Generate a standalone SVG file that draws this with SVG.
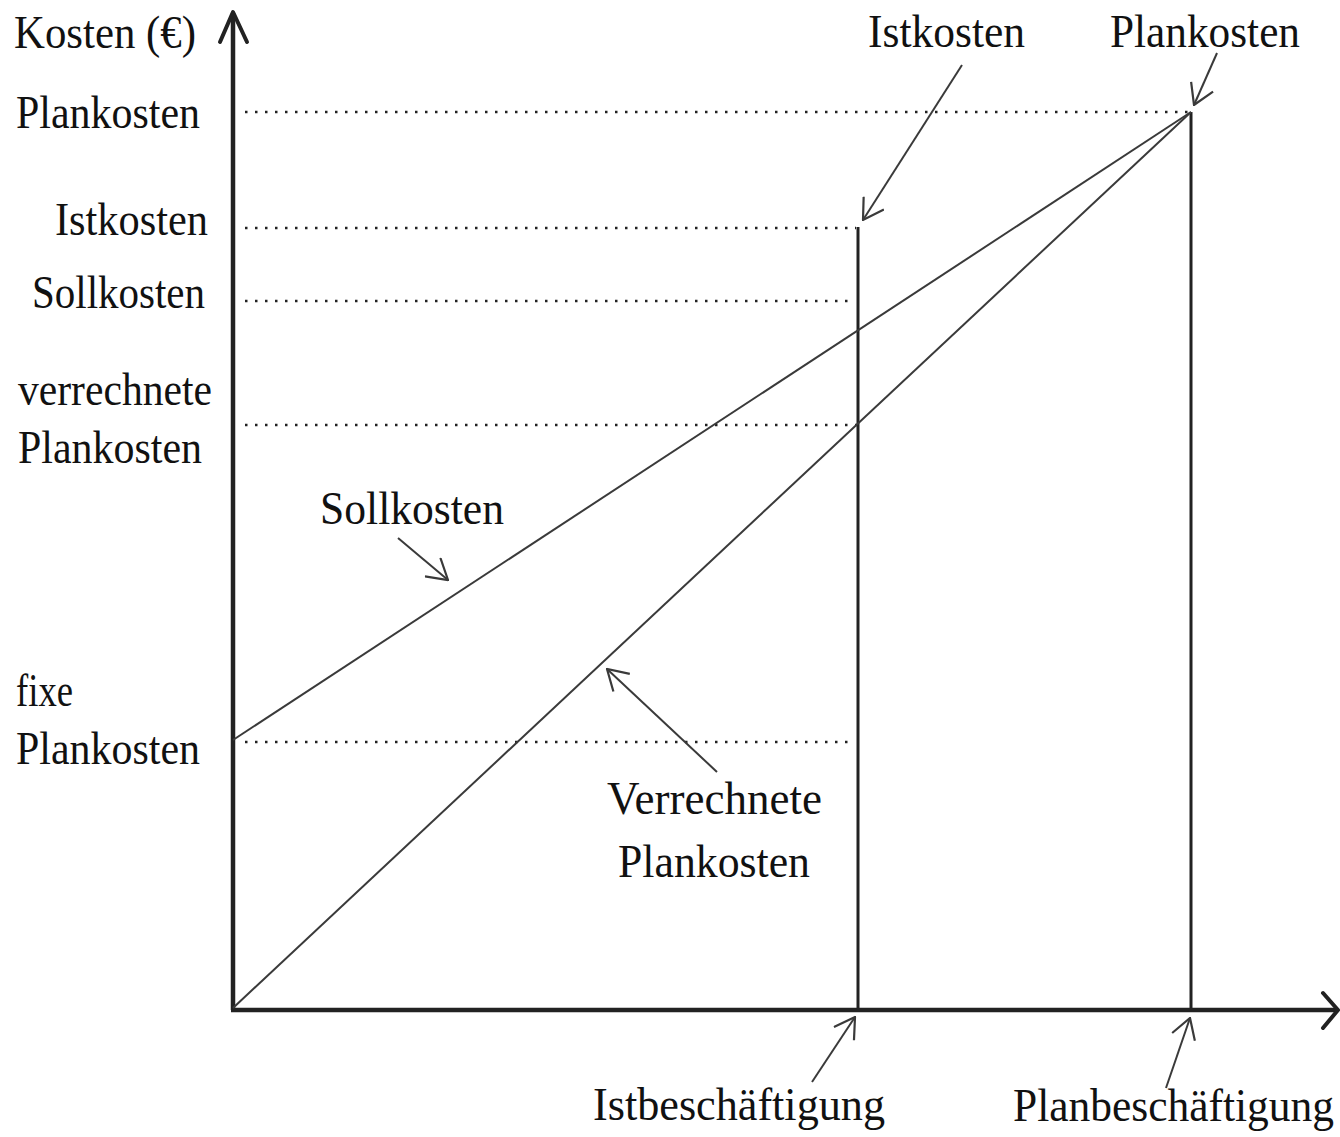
<svg xmlns="http://www.w3.org/2000/svg" width="1340" height="1137" viewBox="0 0 1340 1137">
  <defs>
    <style>
      .lbl { font-family: "Liberation Serif", "Times New Roman", serif; font-size: 47px; fill: #111; }
      .axis { stroke: #222; stroke-width: 4.5; fill: none; }
      .axhead { stroke: #222; stroke-width: 4; fill: none; stroke-linecap: round; stroke-linejoin: round; }
      .vline { stroke: #222; stroke-width: 3; fill: none; }
      .guide { stroke: #222; stroke-width: 2.5; stroke-dasharray: 2.5 7.5; fill: none; }
      .curve { stroke: #3a3a3a; stroke-width: 2; fill: none; }
      .ptr { stroke: #3a3a3a; stroke-width: 2; fill: none; marker-end: url(#vhead); }
    </style>
    <marker id="vhead" viewBox="0 0 22 26" refX="21" refY="13" markerWidth="22" markerHeight="26" markerUnits="userSpaceOnUse" orient="auto">
      <path d="M1,1 L21,13 L1,25" fill="none" stroke="#3a3a3a" stroke-width="2.2"/>
    </marker>
  </defs>

  <rect width="1340" height="1137" fill="#ffffff"/>

  <!-- axes -->
  <g id="axes">
    <line class="axis" x1="233" y1="1010" x2="233" y2="14"/>
    <polyline class="axhead" points="220,42 233,12 247,42"/>
    <line class="axis" x1="231" y1="1010" x2="1337" y2="1010"/>
    <polyline class="axhead" points="1323,993 1338,1010 1323,1028"/>
  </g>

  <!-- dotted guide lines -->
  <g id="guides">
    <line class="guide" x1="245" y1="112" x2="1190" y2="112"/>
    <line class="guide" x1="245" y1="228" x2="856" y2="228"/>
    <line class="guide" x1="245" y1="301" x2="852" y2="301"/>
    <line class="guide" x1="245" y1="425" x2="858" y2="425"/>
    <line class="guide" x1="245" y1="742" x2="850" y2="742"/>
  </g>

  <!-- vertical markers at actual and planned activity -->
  <g id="verticals">
    <line class="vline" x1="858" y1="227" x2="858" y2="1010"/>
    <line class="vline" x1="1191" y1="112" x2="1191" y2="1010"/>
  </g>

  <!-- cost lines -->
  <g id="sollkosten-line">
    <line class="curve" x1="233" y1="740" x2="1191" y2="112"/>
  </g>
  <g id="verrechnete-line">
    <line class="curve" x1="233" y1="1008" x2="1191" y2="112"/>
  </g>

  <!-- y-axis labels -->
  <g id="y-labels">
    <text class="lbl" x="14" y="48" textLength="182" lengthAdjust="spacingAndGlyphs">Kosten (€)</text>
    <text class="lbl" x="16" y="128" textLength="184" lengthAdjust="spacingAndGlyphs">Plankosten</text>
    <text class="lbl" x="55" y="235" textLength="153" lengthAdjust="spacingAndGlyphs">Istkosten</text>
    <text class="lbl" x="32" y="308" textLength="173" lengthAdjust="spacingAndGlyphs">Sollkosten</text>
    <text class="lbl" x="18" y="405" textLength="194" lengthAdjust="spacingAndGlyphs">verrechnete</text>
    <text class="lbl" x="18" y="463" textLength="184" lengthAdjust="spacingAndGlyphs">Plankosten</text>
    <text class="lbl" x="16" y="706" textLength="57" lengthAdjust="spacingAndGlyphs">fixe</text>
    <text class="lbl" x="16" y="764" textLength="184" lengthAdjust="spacingAndGlyphs">Plankosten</text>
  </g>

  <!-- annotation labels -->
  <g id="lbl-istkosten"><text class="lbl" x="868" y="47" textLength="157" lengthAdjust="spacingAndGlyphs">Istkosten</text></g>
  <g id="lbl-plankosten"><text class="lbl" x="1110" y="47" textLength="190" lengthAdjust="spacingAndGlyphs">Plankosten</text></g>
  <g id="lbl-sollkosten"><text class="lbl" x="320" y="524" textLength="184" lengthAdjust="spacingAndGlyphs">Sollkosten</text></g>
  <g id="lbl-verrechnete">
    <text class="lbl" x="607" y="814" textLength="215" lengthAdjust="spacingAndGlyphs">Verrechnete</text>
    <text class="lbl" x="618" y="877" textLength="192" lengthAdjust="spacingAndGlyphs">Plankosten</text>
  </g>
  <g id="lbl-istbeschaeftigung"><text class="lbl" x="593" y="1120" textLength="292" lengthAdjust="spacingAndGlyphs">Istbeschäftigung</text></g>
  <g id="lbl-planbeschaeftigung"><text class="lbl" x="1013" y="1121" font-size="44" textLength="321" lengthAdjust="spacingAndGlyphs">Planbeschäftigung</text></g>

  <!-- pointer arrows from labels -->
  <g id="connectors">
    <line class="ptr" x1="962" y1="65" x2="863" y2="220"/>
    <line class="ptr" x1="1217" y1="53" x2="1194" y2="105"/>
    <line class="ptr" x1="398" y1="538" x2="448" y2="580"/>
    <line class="ptr" x1="717" y1="772" x2="607" y2="669"/>
    <line class="ptr" x1="812" y1="1082" x2="855" y2="1017"/>
    <line class="ptr" x1="1166" y1="1088" x2="1190" y2="1018"/>
  </g>
</svg>
